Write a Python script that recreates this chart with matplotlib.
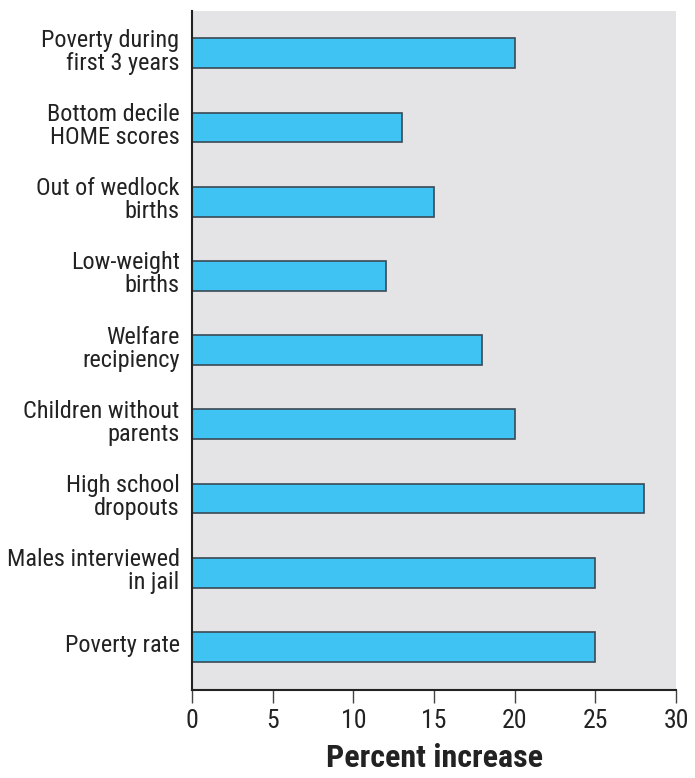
import matplotlib.pyplot as plt
from matplotlib.transforms import ScaledTranslation

# Data, top to bottom as shown in the chart
labels = ['Poverty during\nfirst 3 years', 'Bottom decile\nHOME scores',
          'Out of wedlock\nbirths', 'Low-weight\nbirths', 'Welfare\nrecipiency',
          'Children without\nparents', 'High school\ndropouts',
          'Males interviewed\nin jail', 'Poverty rate']
values = [20, 13, 15, 12, 18, 20, 28, 25, 25]
xticks = [0, 5, 10, 15, 20, 25, 30]

plt.rcParams['font.family'] = ['Roboto Condensed', 'DejaVu Sans']

fig = plt.figure(figsize=(6.95, 7.78), dpi=100)
ax = fig.add_axes([0.2763, 0.1131, 0.6964, 0.8728])
ax.set_facecolor('#e4e4e6')

ypos = list(range(len(labels)))[::-1]
ax.barh(ypos, values, height=0.40, color='#3ec3f2', edgecolor='#3a4a55', linewidth=1.2)

ax.set_xlim(0, 30)
ax.set_ylim(-0.58, 8.57)
ax.set_xticks(xticks)
ax.set_xticklabels([str(t) for t in xticks], fontsize=18.5, color='#222222')
ax.set_yticks(ypos)
ax.set_yticklabels(labels, fontsize=17.5, color='#222222', linespacing=1.0)
ax.tick_params(axis='y', length=0, pad=9)
ax.tick_params(axis='x', length=9, width=1, color='#444444', pad=5)

# labels sit a few pixels above the bar centres in the original
shift = ScaledTranslation(0, 0.04, fig.dpi_scale_trans)
for lab in ax.get_yticklabels():
    lab.set_transform(lab.get_transform() + shift)

for s in ['top', 'right']:
    ax.spines[s].set_visible(False)
ax.spines['left'].set_color('#222222')
ax.spines['bottom'].set_color('#222222')
ax.spines['left'].set_linewidth(1.5)
ax.spines['bottom'].set_linewidth(1.5)

ax.set_xlabel('Percent increase', fontsize=23, fontweight='bold', color='#222222', labelpad=7)

fig.savefig('out.png', dpi=100)
